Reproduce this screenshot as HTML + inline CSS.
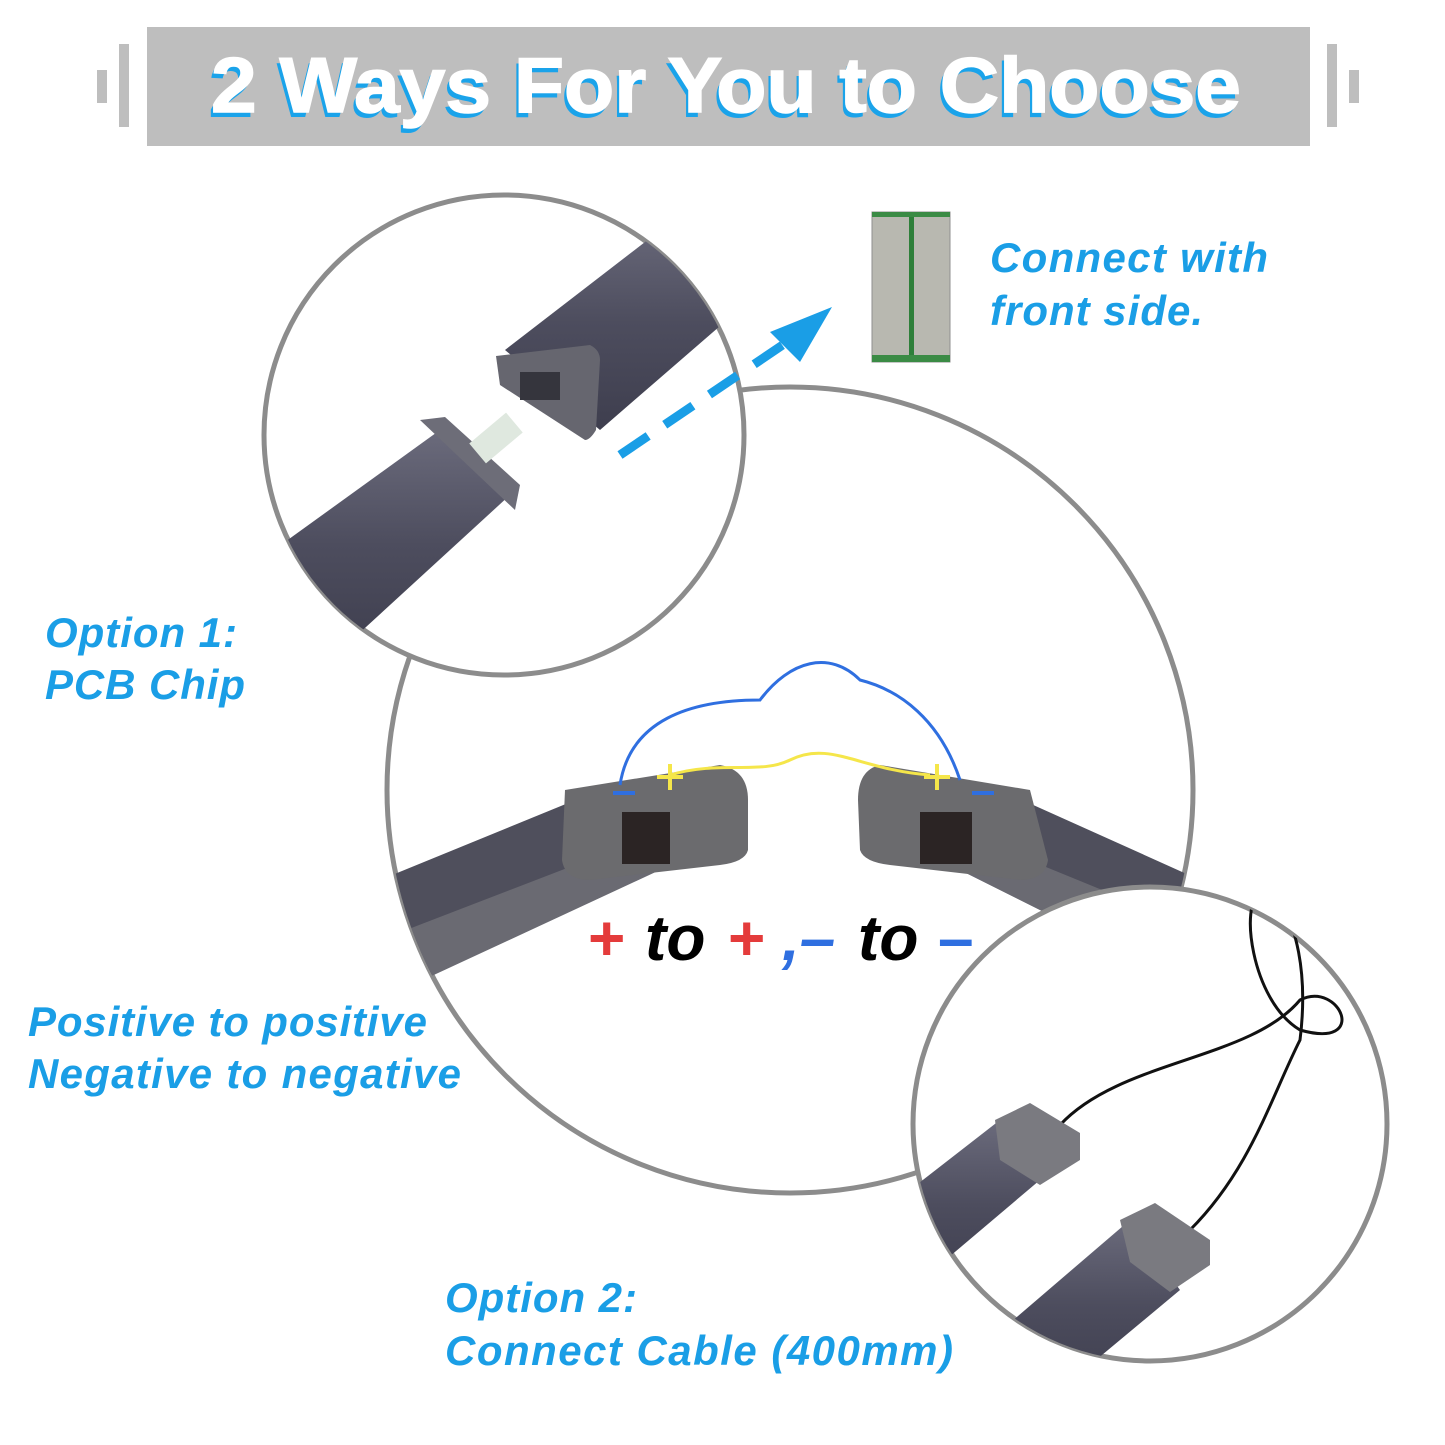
<!DOCTYPE html>
<html><head><meta charset="utf-8"><style>
html,body{margin:0;padding:0;background:#fff;}
svg{display:block;}
.t{font-family:"Liberation Sans",sans-serif;font-weight:bold;font-style:italic;fill:#1a9ee6;}
</style></head><body>
<svg width="1445" height="1445" viewBox="0 0 1445 1445" xmlns="http://www.w3.org/2000/svg">
<defs>
<clipPath id="c1"><circle cx="504" cy="435" r="240"/></clipPath>
<clipPath id="c2"><circle cx="790" cy="790" r="403"/></clipPath>
<clipPath id="c3"><circle cx="1150" cy="1124" r="237"/></clipPath>
<linearGradient id="bar" x1="0" y1="0" x2="0" y2="1"><stop offset="0" stop-color="#6b6b7c"/><stop offset="0.5" stop-color="#4d4d5e"/><stop offset="1" stop-color="#3e3e4e"/></linearGradient>
</defs>
<rect width="1445" height="1445" fill="#fff"/>
<rect x="147" y="27" width="1163" height="119" fill="#bebebe"/>
<rect x="97" y="70" width="10" height="33" fill="#bebebe"/>
<rect x="119" y="44" width="10" height="83" fill="#bebebe"/>
<rect x="1327" y="44" width="10" height="83" fill="#bebebe"/>
<rect x="1349" y="70" width="10" height="33" fill="#bebebe"/>
<text x="723" y="117" text-anchor="middle" font-family="Liberation Sans,sans-serif" font-weight="bold" font-size="78" fill="#1aa3ea" textLength="1030" lengthAdjust="spacingAndGlyphs">2 Ways For You to Choose</text>
<text x="726" y="112" text-anchor="middle" font-family="Liberation Sans,sans-serif" font-weight="bold" font-size="78" fill="#fff" stroke="#fff" stroke-width="1.5" textLength="1030" lengthAdjust="spacingAndGlyphs">2 Ways For You to Choose</text>

<circle cx="790" cy="790" r="403" fill="#fff" stroke="#8c8c8c" stroke-width="5"/>
<g clip-path="url(#c2)">
  <polygon points="380,880 600,790 650,870 380,1000" fill="#4f4f5c"/>
  <polygon points="380,940 640,840 660,870 380,1000" fill="#6a6a72"/>
  <path d="M565,790 L720,765 Q748,770 748,800 L748,850 Q745,862 720,865 L590,880 Q565,880 562,860 Z" fill="#6b6b6e"/>
  <rect x="622" y="812" width="48" height="52" fill="#2b2424"/>
  <polygon points="1200,880 1000,790 960,870 1200,990" fill="#4f4f5c"/>
  <polygon points="1200,930 980,840 960,870 1200,990" fill="#6a6a72"/>
  <path d="M1030,790 L880,765 Q858,770 858,800 L860,850 Q864,862 890,865 L1020,880 Q1045,880 1048,860 Z" fill="#6b6b6e"/>
  <rect x="920" y="812" width="52" height="52" fill="#2b2424"/>
  <path d="M620,785 C630,720 690,700 760,700 C790,660 830,650 860,680 C900,690 940,720 960,780" fill="none" stroke="#2f6fe0" stroke-width="3"/>
  <path d="M670,775 C720,760 760,775 790,760 C830,740 860,770 930,775" fill="none" stroke="#f5e64a" stroke-width="3"/>
  <path d="M613,793 h22 M972,793 h22" stroke="#2f6fe0" stroke-width="4"/>
  <path d="M657,777 h26 M670,764 v26 M924,777 h26 M937,764 v26" stroke="#f5e64a" stroke-width="4"/>
</g>
<text x="588" y="960" font-family="Liberation Sans,sans-serif" font-weight="bold" font-size="64" fill="#e43b3b">+</text>
<text x="645" y="960" font-family="Liberation Sans,sans-serif" font-weight="bold" font-style="italic" font-size="64" fill="#000">to</text>
<text x="728" y="960" font-family="Liberation Sans,sans-serif" font-weight="bold" font-size="64" fill="#e43b3b">+</text>
<text x="782" y="960" font-family="Liberation Sans,sans-serif" font-weight="bold" font-style="italic" font-size="64" fill="#2f6fe0">,–</text>
<text x="858" y="960" font-family="Liberation Sans,sans-serif" font-weight="bold" font-style="italic" font-size="64" fill="#000">to</text>
<text x="938" y="960" font-family="Liberation Sans,sans-serif" font-weight="bold" font-size="64" fill="#2f6fe0">–</text>

<circle cx="504" cy="435" r="240" fill="#fff" stroke="#8c8c8c" stroke-width="5"/>
<g clip-path="url(#c1)">
  <polygon points="260,560 440,430 510,495 330,660" fill="url(#bar)"/>
  <polygon points="420,420 445,417 520,485 515,510" fill="#6d6d78"/>
  <rect x="472" y="425" width="48" height="26" fill="#dfe8df" transform="rotate(-40 496 438)"/>
  <polygon points="505,350 680,215 750,300 600,430" fill="url(#bar)"/>
  <path d="M496,356 L590,345 Q600,350 600,360 L596,430 Q590,440 585,440 L500,385 Z" fill="#66666f"/>
  <rect x="520" y="372" width="40" height="28" fill="#35353d"/>
</g>
<line x1="620" y1="455" x2="790" y2="340" stroke="#1a9ee6" stroke-width="9" stroke-dasharray="34,20"/>
<polygon points="832,307 770,332 800,362" fill="#1a9ee6"/>
<rect x="872" y="212" width="78" height="150" fill="#b8b8b0" stroke="#8f8f8f"/>
<rect x="909" y="212" width="5" height="150" fill="#2e7f3a"/>
<rect x="872" y="212" width="78" height="5" fill="#3b8b45"/>
<rect x="872" y="355" width="78" height="7" fill="#3b8b45"/>

<circle cx="1150" cy="1124" r="237" fill="#fff" stroke="#8c8c8c" stroke-width="5"/>
<g clip-path="url(#c3)">
  <path d="M1060,1125 C1120,1060 1250,1060 1300,1000 C1340,980 1370,1050 1300,1030 C1250,1000 1240,900 1260,895" fill="none" stroke="#111" stroke-width="3"/>
  <path d="M1190,1230 C1250,1170 1270,1100 1300,1040 C1310,960 1290,920 1280,895" fill="none" stroke="#111" stroke-width="3"/>
  <polygon points="910,1190 1000,1120 1040,1180 910,1290" fill="url(#bar)"/>
  <path d="M995,1120 L1030,1103 L1080,1133 L1080,1160 L1040,1185 L1000,1160 Z" fill="#7a7a80"/>
  <polygon points="990,1340 1130,1220 1180,1290 1060,1390" fill="url(#bar)"/>
  <path d="M1120,1220 L1155,1203 L1210,1240 L1210,1265 L1170,1292 L1130,1262 Z" fill="#7a7a80"/>
</g>

<text class="t" x="990" y="272" font-size="42" textLength="278">Connect with</text>
<text class="t" x="990" y="325" font-size="42" textLength="213">front side.</text>
<text class="t" x="45" y="647" font-size="42" textLength="192">Option 1:</text>
<text class="t" x="45" y="699" font-size="42" textLength="200">PCB Chip</text>
<text class="t" x="28" y="1036" font-size="42" textLength="399">Positive to positive</text>
<text class="t" x="28" y="1088" font-size="42" textLength="433">Negative to negative</text>
<text class="t" x="445" y="1312" font-size="42" textLength="192">Option 2:</text>
<text class="t" x="445" y="1365" font-size="42" textLength="508">Connect Cable (400mm)</text>
</svg>
</body></html>
